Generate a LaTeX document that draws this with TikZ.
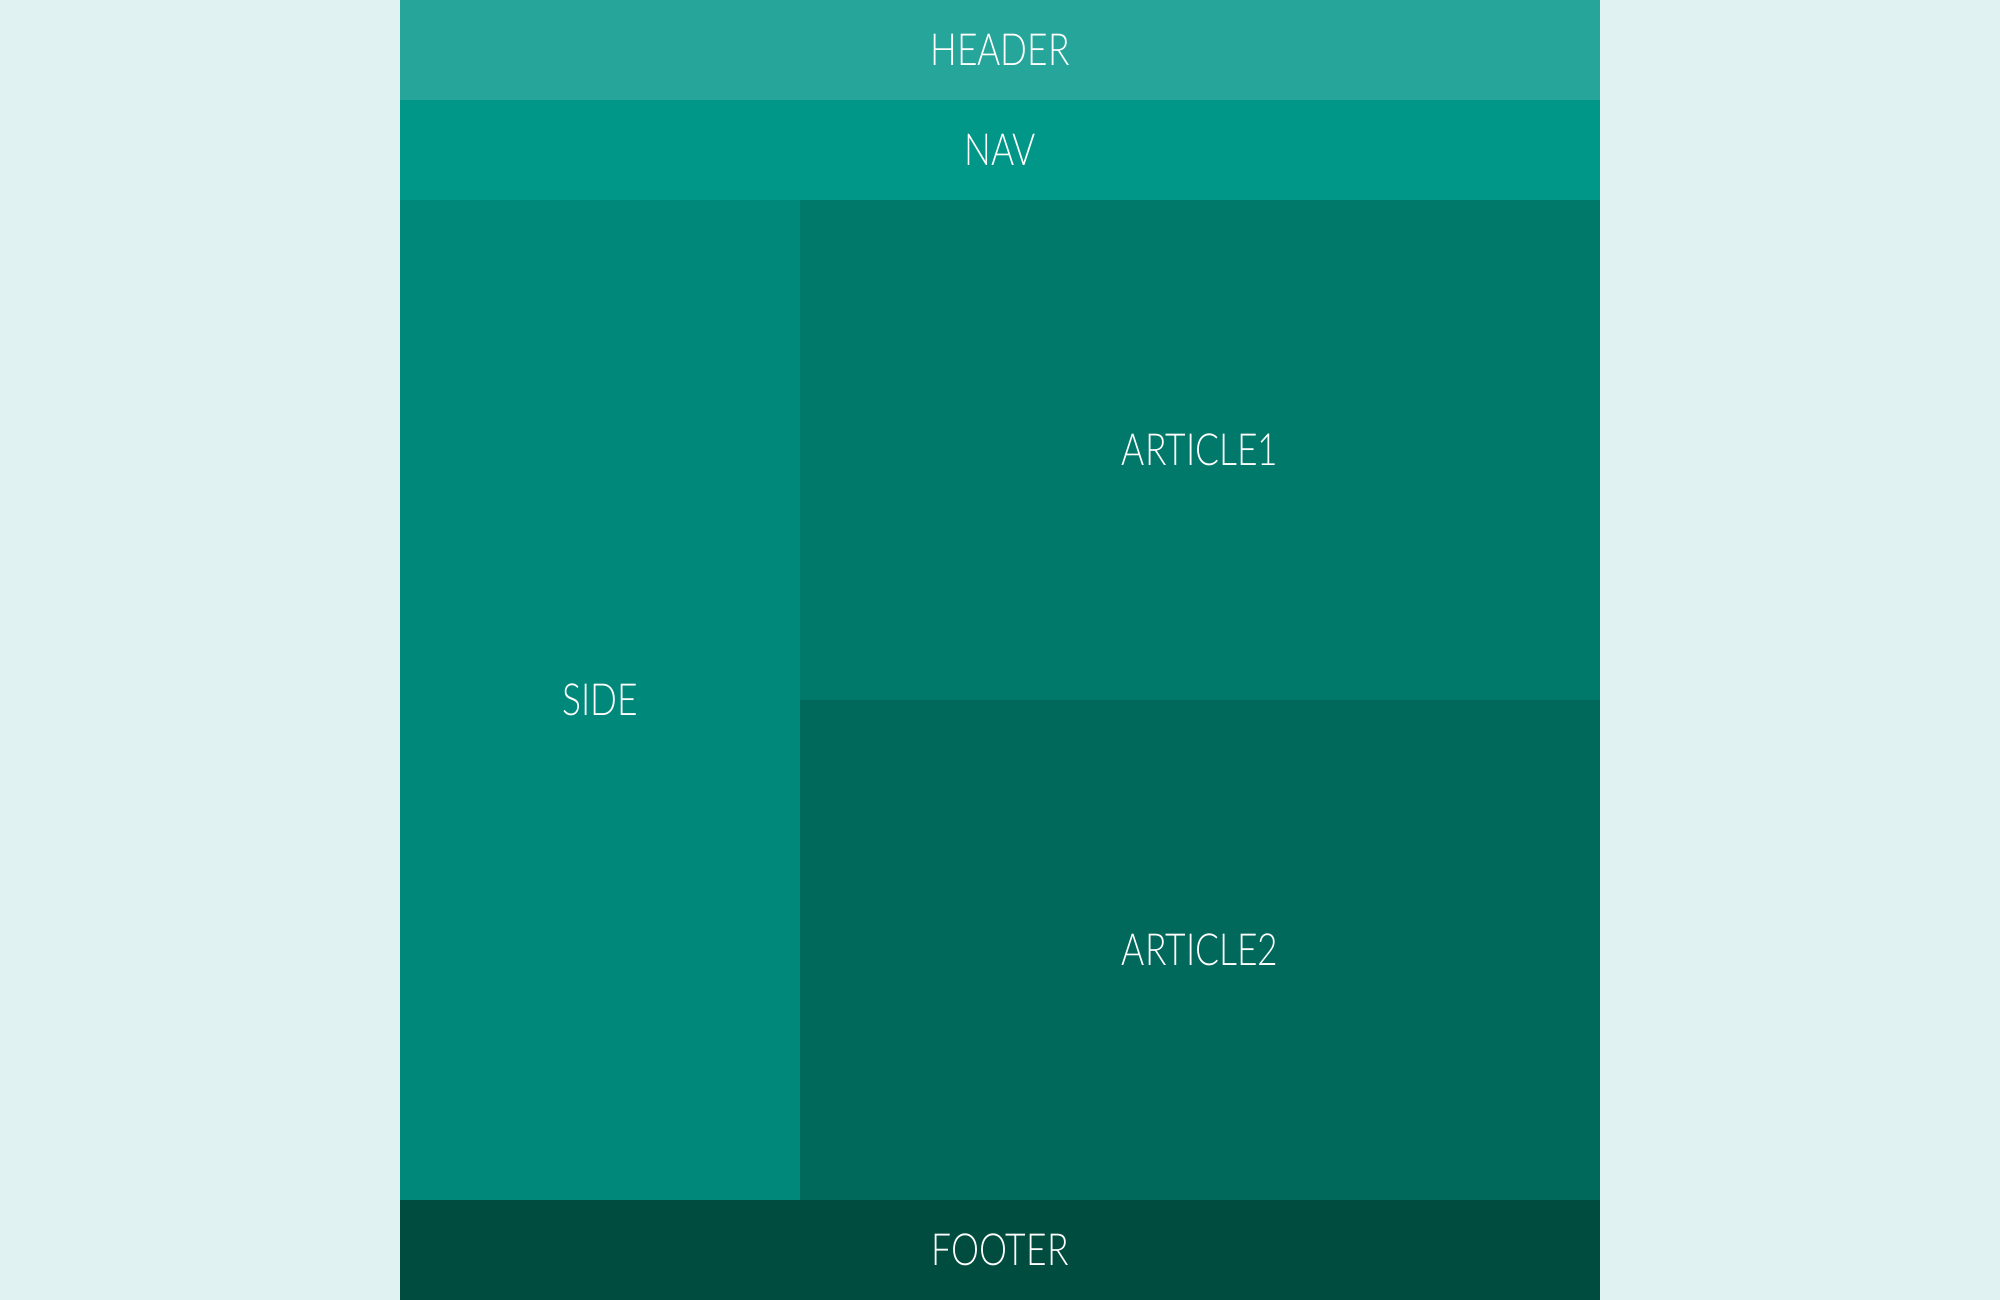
\documentclass[tikz,border=0pt]{standalone}
\usepackage{fontspec}
\setmainfont{Lato}[UprightFont=* Light,FakeStretch=0.8]
\usetikzlibrary{positioning}
\definecolor{PageMint}{HTML}{E0F2F1}
\definecolor{TealHead}{HTML}{26A69A}
\definecolor{TealNav}{HTML}{009688}
\definecolor{TealSide}{HTML}{00897B}
\definecolor{TealArtA}{HTML}{00796B}
\definecolor{TealArtB}{HTML}{00695C}
\definecolor{TealFoot}{HTML}{004D40}
\begin{document}
\begin{tikzpicture}[node distance=0pt]
\tikzset{zone/.style={inner sep=0pt,outer sep=0pt,text=white,font=\fontsize{12.6}{15}\selectfont,minimum width=12cm,minimum height=1cm},
side/.style={zone,minimum width=4cm,minimum height=10cm},
article/.style={zone,minimum width=8cm,minimum height=5cm}}
\fill[PageMint] (0,0) rectangle (20,13);
\useasboundingbox (0,0) rectangle (20,13);
\node[zone,fill=TealHead] (header) at (10,12.5) {HEADER};
\node[zone,fill=TealNav,below=of header] (nav) {NAV};
\node[side,fill=TealSide,below=of nav.south west,anchor=north west] (sidebar) {SIDE};
\node[article,fill=TealArtA,right=of sidebar.north east,anchor=north west] (art1) {ARTICLE1};
\node[article,fill=TealArtB,below=of art1] (art2) {ARTICLE2};
\node[zone,fill=TealFoot,below=of sidebar.south west,anchor=north west] (footer) {FOOTER};
\end{tikzpicture}
\end{document}
